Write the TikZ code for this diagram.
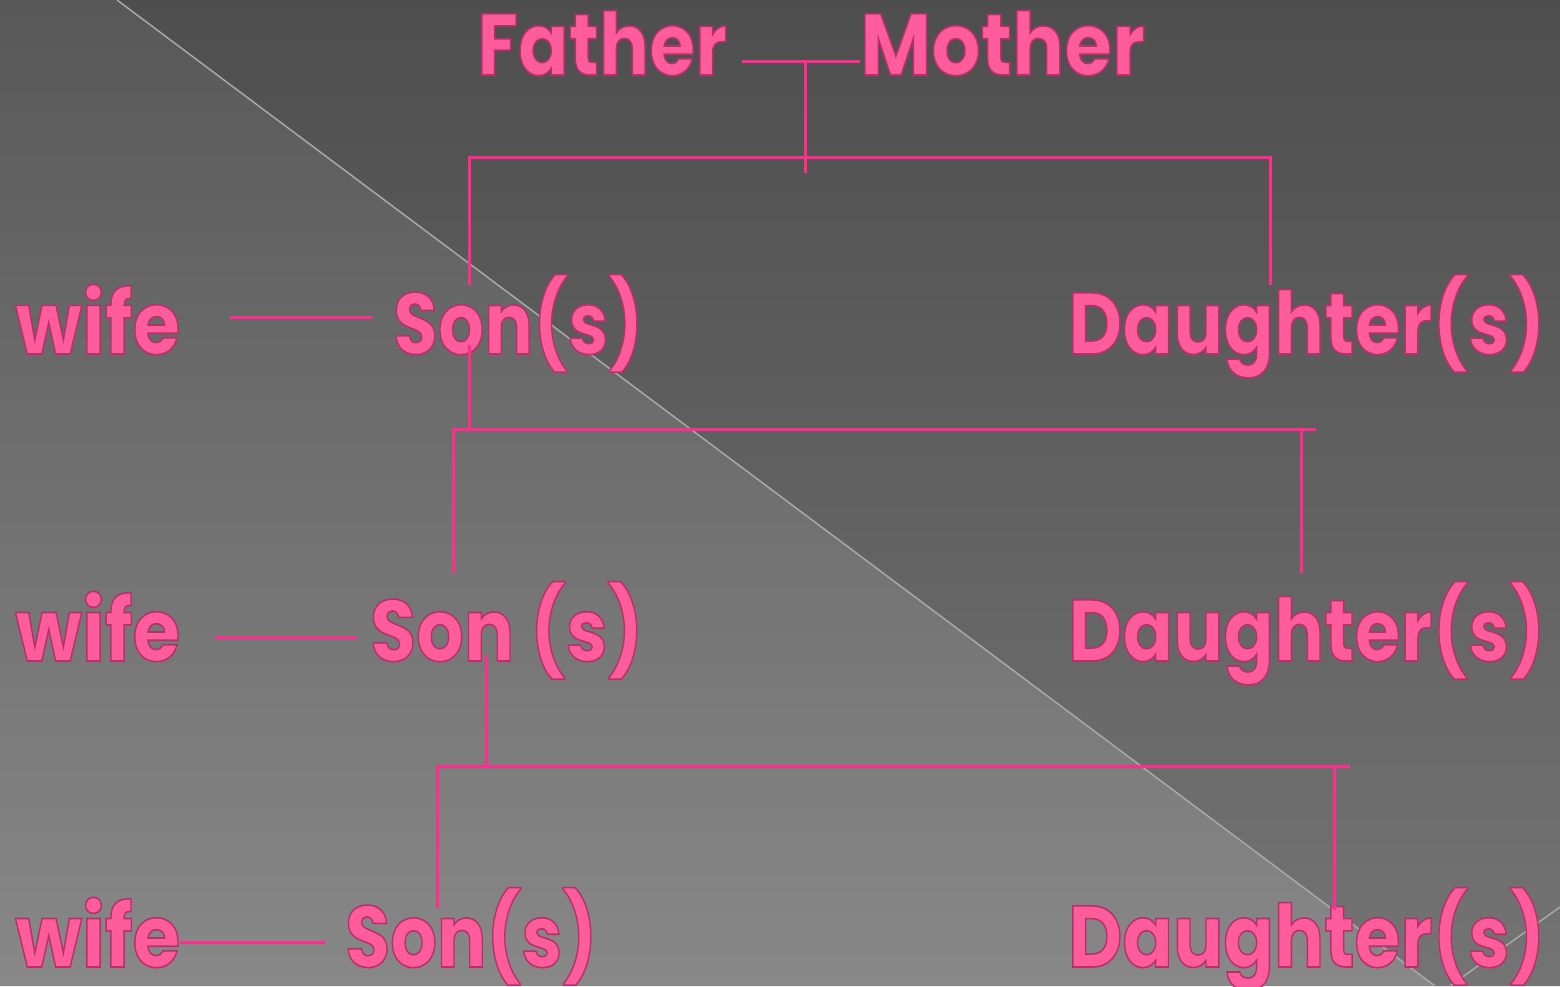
\documentclass[tikz,border=0pt]{standalone}
\usepackage{fontspec}
\newfontfamily\pf{Poppins}
\definecolor{pinkfill}{HTML}{FF5C9B}
\definecolor{pinkline}{HTML}{FF2D8C}
\definecolor{diag}{HTML}{A8A8A8}
\newcommand\otext[1]{\special{pdf:literal direct 0.72 0.19 0.42 RG 1.6 w 2 Tr}#1\special{pdf:literal direct 0 Tr}}
\newcommand\fit[2]{\resizebox{#1pt}{\height}{\otext{#2}}}
\tikzset{
  lbl/.style={anchor=base west, inner sep=0pt, font=\pf\bfseries\fontsize{87}{87}\selectfont, text=pinkfill},
  link/.style={draw=pinkline, line width=3pt},
}
\begin{document}
\begin{tikzpicture}[x=1pt,y=1pt]
\useasboundingbox (0,0) rectangle (1560,986);
% background
\shade[top color={rgb,255:red,78;green,78;blue,78}, bottom color={rgb,255:red,116;green,116;blue,116}] (117,986) -- (1560,986) -- (1560,0) -- (1435,0) -- cycle;
\shade[top color={rgb,255:red,88;green,88;blue,88}, bottom color={rgb,255:red,136;green,136;blue,136}] (0,986) -- (117,986) -- (1435,0) -- (0,0) -- cycle;
\draw[diag, line width=1.5pt] (117,986) -- (1435,0);
\draw[diag, line width=1.5pt] (1450,0) -- (1560,79);
% labels
\node[lbl] (father) at (477,911) {\fit{250}{Father}};
\node[lbl] (mother) at (860,911) {\fit{285}{Mother}};
\node[lbl] (wife1) at (15,632) {\fit{165}{wife}};
\node[lbl] (son1) at (393,632) {\fit{250}{Son(s)}};
\node[lbl] (dau1) at (1068,632) {\fit{477}{Daughter(s)}};
\node[lbl] (wife2) at (15,325) {\fit{165}{wife}};
\node[lbl] (son2) at (370,325) {\fit{273}{Son (s)}};
\node[lbl] (dau2) at (1068,325) {\fit{477}{Daughter(s)}};
\node[lbl] (wife3) at (15,19) {\fit{165}{wife}};
\node[lbl] (son3) at (345,19) {\fit{252}{Son(s)}};
\node[lbl] (dau3) at (1068,19) {\fit{477}{Daughter(s)}};
% junction coordinates
\coordinate (fm1) at (742,924); \coordinate (fm2) at (860,924);
\coordinate (fmj) at (805,924); \coordinate (fmb) at (805,813);
\coordinate (h1l) at (469,828); \coordinate (h1r) at (1270,828);
\coordinate (s1t) at (469,701); \coordinate (d1t) at (1270,701);
\coordinate (w1a) at (230,668); \coordinate (w1b) at (372,668);
\coordinate (s1b) at (469,641); \coordinate (h2j) at (469,556);
\coordinate (h2l) at (453,556); \coordinate (h2r) at (1316,556); \coordinate (h2d) at (1301,556);
\coordinate (s2t) at (453,413); \coordinate (d2t) at (1301,413);
\coordinate (w2a) at (215,348); \coordinate (w2b) at (357,348);
\coordinate (s2b) at (486,331); \coordinate (h3j) at (486,220);
\coordinate (h3l) at (437,220); \coordinate (h3r) at (1350,220); \coordinate (h3d) at (1334,220);
\coordinate (s3t) at (437,78); \coordinate (d3t) at (1334,76);
\coordinate (w3a) at (180,44); \coordinate (w3b) at (325,44);
% connectors
\draw[link] (fm1) -- (fm2);
\draw[link] (fmj) -- (fmb);
\draw[link] (s1t) -- (h1l) -- (h1r) -- (d1t);
\draw[link] (w1a) -- (w1b);
\draw[link] (s1b) -- (h2j);
\draw[link] (s2t) -- (h2l) -- (h2r);
\draw[link] (h2d) -- (d2t);
\draw[link] (w2a) -- (w2b);
\draw[link] (s2b) -- (h3j);
\draw[link] (s3t) -- (h3l) -- (h3r);
\draw[link] (h3d) -- (d3t);
\draw[link] (w3a) -- (w3b);
\end{tikzpicture}
\end{document}
